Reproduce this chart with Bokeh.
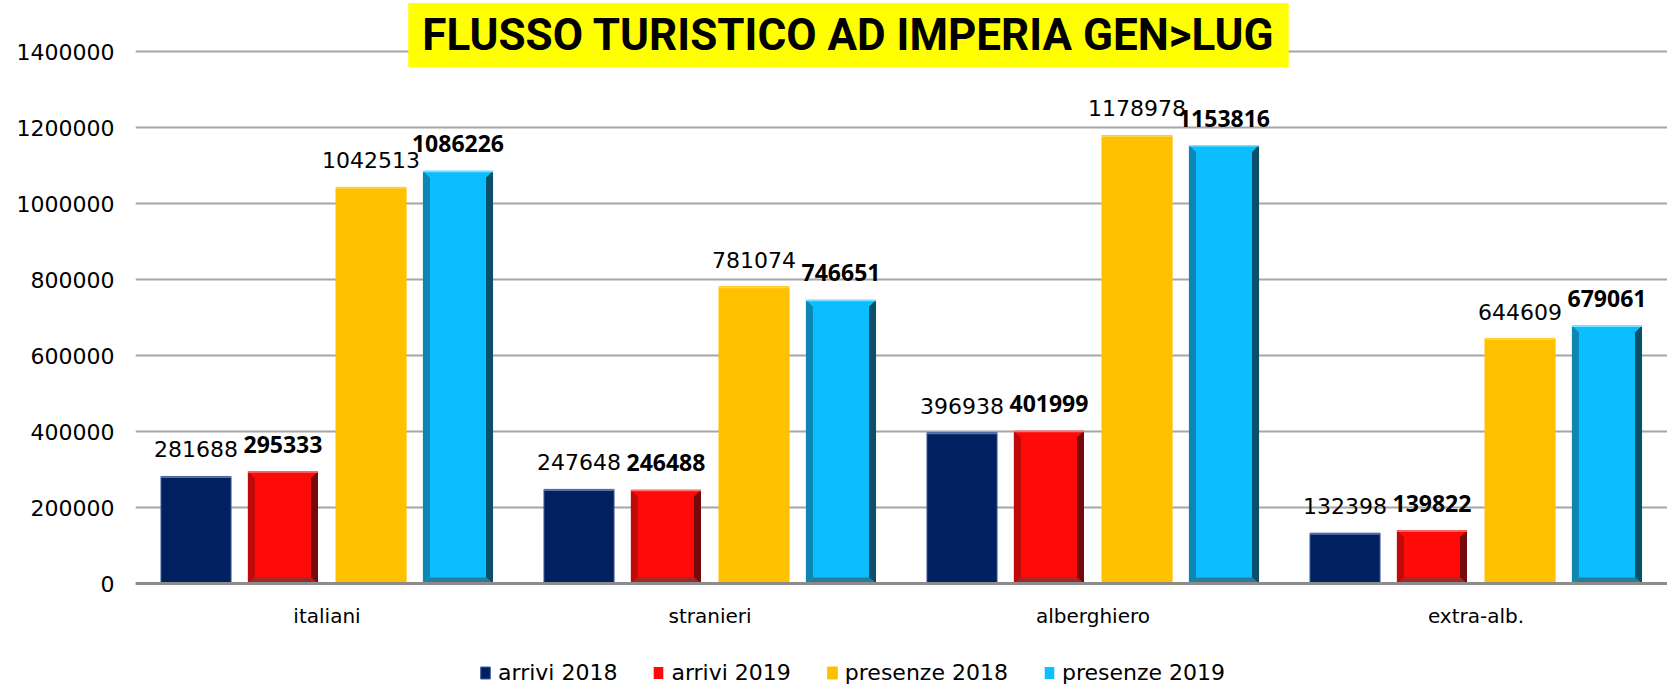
from bokeh.plotting import figure
from bokeh.models import Range1d, FixedTicker, Label, Legend, LegendItem, ColumnDataSource
from bokeh.core.properties import value
from bokeh.embed import file_html
from bokeh.resources import INLINE

# ---------------- data ----------------
categories = ["italiani", "stranieri", "alberghiero", "extra-alb."]
series_names = ["arrivi 2018", "arrivi 2019", "presenze 2018", "presenze 2019"]
arrivi_2018 = [281688, 247648, 396938, 132398]
arrivi_2019 = [295333, 246488, 401999, 139822]
presenze_2018 = [1042513, 781074, 1178978, 644609]
presenze_2019 = [1086226, 746651, 1153816, 679061]
y_ticks = [0, 200000, 400000, 600000, 800000, 1000000, 1200000, 1400000]
y_tick_labels = ["0", "200000", "400000", "600000", "800000", "1000000", "1200000", "1400000"]
title_text = "FLUSSO TURISTICO AD IMPERIA GEN>LUG"

series_values = [arrivi_2018, arrivi_2019, presenze_2018, presenze_2019]

# ---------------- layout / style ----------------
W, H = 1667, 685
BORDER_LEFT = 135
ZERO_Y = 583            # pixel row of the zero line (from top)
FRAME_W = W - BORDER_LEFT
PX_PER_Y = 532 / 1400000.0
PX_PER_CAT = FRAME_W / len(categories)
offsets = [-0.342, -0.115, 0.115, 0.342]
bar_w = 0.183
face = ["#002060", "#FF0909", "#FFC000", "#0ABEFF"]
edge = ["#3F5E9C", None, "#FFC000", None]
top_line = ["#5A74A8", "#FF7070", "#FFD54F", "#7FDFFF"]
bevel = {1: ("#BF0A0A", "#740A0A", "#9E2B2B"), 3: ("#0D86B3", "#0B4F69", "#2A7C98")}
bold = [False, True, False, True]
FONT = "DejaVu Sans"
BOLD_FONT = "Open Sans"

p = figure(width=W, height=H, output_backend="svg", toolbar_location=None,
           x_range=Range1d(0, len(categories)),
           y_range=Range1d(-(H - ZERO_Y) / PX_PER_Y, ZERO_Y / PX_PER_Y),
           min_border_left=BORDER_LEFT, min_border_right=0,
           min_border_top=0, min_border_bottom=0)
p.outline_line_color = None
p.background_fill_color = "white"
p.xgrid.grid_line_color = None
p.ygrid.grid_line_color = "#A6A6A6"
p.ygrid.grid_line_width = 2

bx = 7 / PX_PER_CAT
bs = 7 / PX_PER_Y
bb = 6 / PX_PER_Y
tl = 1.5 / PX_PER_Y

renderers = []
for s, vals in enumerate(series_values):
    xc = [i + 0.5 + offsets[s] for i in range(len(categories))]
    x0 = [x - bar_w / 2 for x in xc]
    x1 = [x + bar_w / 2 for x in xc]
    src = ColumnDataSource(dict(x0=x0, x1=x1, top=vals, bottom=[0] * len(vals)))
    r = p.quad(left="x0", right="x1", top="top", bottom="bottom", source=src,
               fill_color=face[s], line_color=edge[s], line_width=1 if edge[s] else 0)
    renderers.append(r)
    if s in bevel:
        lc, rc, bc = bevel[s]
        lx, ly, rx, ry, bxs, bys = [], [], [], [], [], []
        for a, b, v in zip(x0, x1, vals):
            lx.append([a, a, a + bx, a + bx]); ly.append([0, v, v - bs, bb])
            rx.append([b, b, b - bx, b - bx]); ry.append([0, v, v - bs, bb])
            bxs.append([a, b, b - bx, a + bx]); bys.append([0, 0, bb, bb])
        p.patches(lx, ly, fill_color=lc, line_color=None)
        p.patches(rx, ry, fill_color=rc, line_color=None)
        p.patches(bxs, bys, fill_color=bc, line_color=None)
    p.quad(left=x0, right=x1, top=vals, bottom=[v - tl for v in vals],
           fill_color=top_line[s], line_color=None)
    # value labels
    p.text(x=xc, y=vals, text=[str(v) for v in vals],
           text_font=value(BOLD_FONT if bold[s] else FONT),
           text_font_size="23px" if bold[s] else "22px",
           text_font_style="bold" if bold[s] else "normal",
           text_color="black", text_align="center", text_baseline="middle",
           y_offset=-27)

# axes
p.xaxis.fixed_location = 0
p.xaxis.ticker = FixedTicker(ticks=[i + 0.5 for i in range(len(categories))])
p.xaxis.major_label_overrides = {i + 0.5: c for i, c in enumerate(categories)}
p.xaxis.axis_line_color = "#8C8C8C"
p.xaxis.axis_line_width = 3
p.xaxis.major_tick_line_color = None
p.xaxis.minor_tick_line_color = None
p.xaxis.major_label_standoff = 14
p.xaxis.major_label_text_font = FONT
p.xaxis.major_label_text_font_size = "20px"
p.xaxis.major_label_text_color = "black"

p.yaxis.ticker = FixedTicker(ticks=y_ticks)
p.yaxis.major_label_overrides = {t: l for t, l in zip(y_ticks, y_tick_labels)}
p.yaxis.axis_line_color = None
p.yaxis.major_tick_line_color = None
p.yaxis.minor_tick_line_color = None
p.yaxis.major_label_standoff = 15
p.yaxis.major_label_text_font = FONT
p.yaxis.major_label_text_font_size = "22px"
p.yaxis.major_label_text_color = "black"
p.ygrid.ticker = FixedTicker(ticks=y_ticks)

# title
title = Label(x=713, y=H - 34.5, x_units="screen", y_units="screen", text=title_text,
              text_font="Roboto", text_font_style="bold", text_font_size="44px",
              text_color="black", text_align="center", text_baseline="middle",
              background_fill_color="#FFFF00",
              padding=dict(top=6, right=14, bottom=6, left=14))
p.add_layout(title)

legend = Legend(items=[LegendItem(label=n, renderers=[r]) for n, r in zip(series_names, renderers)],
                orientation="horizontal", location=(344, 0),
                glyph_width=12, glyph_height=15, label_standoff=7, spacing=35,
                padding=0, margin=0, border_line_alpha=0, background_fill_alpha=0,
                label_text_font=FONT, label_text_font_size="22px", label_height=20,
                label_text_color="black")
p.add_layout(legend)

open("out.html", "w").write(file_html(p, INLINE))
